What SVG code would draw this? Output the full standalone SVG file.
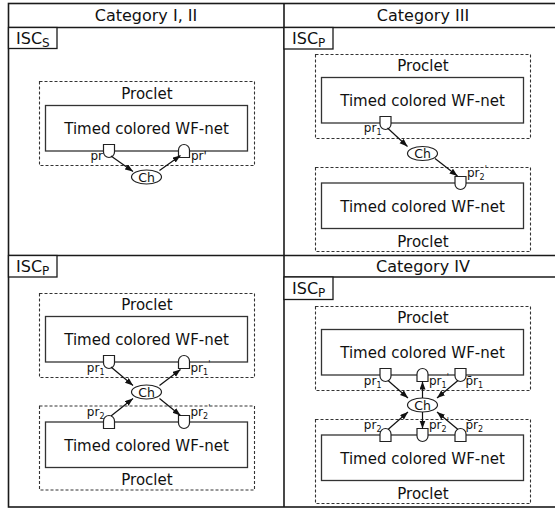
<svg xmlns="http://www.w3.org/2000/svg" width="555" height="509" viewBox="0 0 555 509">
<style>
text{font-family:"DejaVu Sans",sans-serif;fill:#111}
.hdr{font-size:16px;text-anchor:middle}
.isc{font-size:16px}
.sub{font-size:12px}
.lbl{font-size:15px;text-anchor:middle}
.pl{font-size:12px}
.ps{font-size:8px}
.end{text-anchor:end}
.cht{font-size:12.5px;text-anchor:middle}
.grid{fill:none;stroke:#1a1a1a;stroke-width:1.6}
.box{fill:#fff;stroke:#1a1a1a;stroke-width:1.3}
.proclet{fill:none;stroke:#333;stroke-width:1.1;stroke-dasharray:3 2}
.net{fill:none;stroke:#333;stroke-width:1.3}
.place{fill:#fff;stroke:#222;stroke-width:1.2}
.ch{fill:#fff;stroke:#222;stroke-width:1.2}
.arc{stroke:#111;stroke-width:1.2;fill:none;marker-end:url(#ah)}
</style>
<defs>
<marker id="ah" markerUnits="userSpaceOnUse" markerWidth="9" markerHeight="7" refX="8" refY="3" orient="auto"><path d="M0,0 L8,3 L0,6 Z" fill="#111"/></marker>
<path id="cup" class="place" d="M-5.5,-6.5H5.5V1A5.5,5.5 0 0 1 -5.5,1Z"/>
<path id="dome" class="place" d="M-5.5,6.5H5.5V-1A5.5,5.5 0 0 0 -5.5,-1Z"/>
</defs>

<g id="table">
<rect class="grid" x="8.5" y="3.5" width="560" height="503.5"/>
<line class="grid" x1="284" y1="3.5" x2="284" y2="507"/>
<line class="grid" x1="8.5" y1="27.5" x2="568" y2="27.5"/>
<line class="grid" x1="8.5" y1="255.5" x2="568" y2="255.5"/>
<line class="grid" x1="284" y1="277" x2="568" y2="277"/>
<text class="hdr" x="146" y="21">Category I, II</text>
<text class="hdr" x="423" y="21">Category III</text>
<text class="hdr" x="423" y="271.5">Category IV</text>
</g>

<g id="isc-a"><rect class="box" x="8.5" y="27.5" width="48.5" height="21"/><text class="isc" x="16" y="43.5">ISC<tspan class="sub" dy="3.5">S</tspan></text></g>
<g id="isc-b"><rect class="box" x="284" y="27.5" width="49" height="21.5"/><text class="isc" x="292" y="43.5">ISC<tspan class="sub" dy="3.5">P</tspan></text></g>
<g id="isc-c"><rect class="box" x="8.5" y="255.5" width="48.5" height="21.5"/><text class="isc" x="16" y="271.5">ISC<tspan class="sub" dy="3.5">P</tspan></text></g>
<g id="isc-d"><rect class="box" x="284" y="277" width="49" height="22.5"/><text class="isc" x="292" y="293.5">ISC<tspan class="sub" dy="3.5">P</tspan></text></g>

<!-- Panel A -->
<g id="a-proclet">
<rect class="proclet" x="39.5" y="81.5" width="215" height="84"/>
<text class="lbl" x="147" y="99">Proclet</text>
<rect class="net" x="45.5" y="105.5" width="202" height="45.5"/>
<text class="lbl" x="146.5" y="133.5">Timed colored WF-net</text>
</g>
<g id="a-pr"><use href="#cup" x="109" y="151"/><text class="pl end" x="103" y="160">pr</text></g>
<g id="a-pr2"><use href="#dome" x="184" y="151"/><text class="pl" x="191" y="160">pr'</text></g>
<g id="a-ch"><ellipse class="ch" cx="146.5" cy="177" rx="15" ry="7"/><text class="cht" x="146.5" y="181.5">Ch</text></g>

<!-- Panel B -->
<g id="b-proclet1">
<rect class="proclet" x="315.5" y="54.5" width="215" height="84"/>
<text class="lbl" x="423" y="71">Proclet</text>
<rect class="net" x="321.5" y="77.5" width="202" height="45.5"/>
<text class="lbl" x="422.5" y="106">Timed colored WF-net</text>
</g>
<g id="b-proclet2">
<rect class="proclet" x="315.5" y="167.5" width="215" height="84"/>
<rect class="net" x="321.5" y="183" width="202" height="45.5"/>
<text class="lbl" x="422.5" y="212">Timed colored WF-net</text>
<text class="lbl" x="423" y="246.5">Proclet</text>
</g>
<g id="b-pr1"><use href="#cup" x="385.5" y="123"/><text class="pl end" x="381.5" y="132">pr<tspan class="ps" dy="3">1</tspan></text></g>
<g id="b-pr2"><use href="#cup" x="460.5" y="183"/><text class="pl" x="467" y="177">pr<tspan class="ps" dy="3">2</tspan><tspan class="ps" dy="-8">'</tspan></text></g>
<g id="b-ch"><ellipse class="ch" cx="422.5" cy="153.5" rx="15" ry="7"/><text class="cht" x="422.5" y="158">Ch</text></g>

<!-- Panel C -->
<g id="c-proclet1">
<rect class="proclet" x="39.5" y="293.5" width="215" height="84"/>
<text class="lbl" x="147" y="309.5">Proclet</text>
<rect class="net" x="45.5" y="316.5" width="202" height="45.5"/>
<text class="lbl" x="146.5" y="345">Timed colored WF-net</text>
</g>
<g id="c-proclet2">
<rect class="proclet" x="39.5" y="406" width="215" height="84"/>
<rect class="net" x="45.5" y="422" width="202" height="45.5"/>
<text class="lbl" x="146.5" y="450.5">Timed colored WF-net</text>
<text class="lbl" x="147" y="484.5">Proclet</text>
</g>
<g id="c-pr1"><use href="#cup" x="109" y="362"/><text class="pl end" x="104.5" y="372">pr<tspan class="ps" dy="3">1</tspan></text></g>
<g id="c-pr1p"><use href="#dome" x="184" y="362"/><text class="pl" x="190.5" y="372">pr<tspan class="ps" dy="3">1</tspan><tspan class="ps" dy="-8">'</tspan></text></g>
<g id="c-pr2"><use href="#dome" x="109" y="422"/><text class="pl end" x="104.5" y="416">pr<tspan class="ps" dy="3">2</tspan></text></g>
<g id="c-pr2p"><use href="#cup" x="184" y="422"/><text class="pl" x="190.5" y="416">pr<tspan class="ps" dy="3">2</tspan><tspan class="ps" dy="-8">'</tspan></text></g>
<g id="c-ch"><ellipse class="ch" cx="146.5" cy="392" rx="15" ry="7"/><text class="cht" x="146.5" y="396.5">Ch</text></g>

<!-- Panel D -->
<g id="d-proclet1">
<rect class="proclet" x="315.5" y="306.5" width="215" height="84"/>
<text class="lbl" x="423" y="323">Proclet</text>
<rect class="net" x="321.5" y="329.5" width="202" height="45.5"/>
<text class="lbl" x="422.5" y="358">Timed colored WF-net</text>
</g>
<g id="d-proclet2">
<rect class="proclet" x="315.5" y="419.5" width="215" height="84"/>
<rect class="net" x="321.5" y="435" width="202" height="45.5"/>
<text class="lbl" x="422.5" y="464">Timed colored WF-net</text>
<text class="lbl" x="423" y="498.5">Proclet</text>
</g>
<g id="d-pr1"><use href="#cup" x="385.5" y="375"/><text class="pl end" x="381.5" y="385">pr<tspan class="ps" dy="3">1</tspan></text></g>
<g id="d-pr1p"><use href="#dome" x="422.5" y="375"/><text class="pl" x="429" y="385">pr<tspan class="ps" dy="3">1</tspan><tspan class="ps" dy="-8">'</tspan></text></g>
<g id="d-pbr1"><use href="#cup" x="460.5" y="375"/><text class="pl" x="465.5" y="385">p&#x304;r<tspan class="ps" dy="3">1</tspan></text></g>
<g id="d-pr2"><use href="#dome" x="385.5" y="435"/><text class="pl end" x="381.5" y="429">pr<tspan class="ps" dy="3">2</tspan></text></g>
<g id="d-pr2p"><use href="#cup" x="422.5" y="435"/><text class="pl" x="429" y="429">pr<tspan class="ps" dy="3">2</tspan><tspan class="ps" dy="-8">'</tspan></text></g>
<g id="d-pbr2"><use href="#dome" x="460.5" y="435"/><text class="pl" x="465.5" y="429">p&#x304;r<tspan class="ps" dy="3">2</tspan></text></g>
<g id="d-ch"><ellipse class="ch" cx="422.5" cy="405" rx="15" ry="7"/><text class="cht" x="422.5" y="409.5">Ch</text></g>

<g id="connectors">
<path class="arc" d="M111,156 L133,171.5"/>
<path class="arc" d="M159.5,170.5 L180.5,155.5"/>
<path class="arc" d="M387.5,128 L407.5,146.5"/>
<path class="arc" d="M435,158.5 L457.5,176"/>
<path class="arc" d="M111,367 L133,385.5"/>
<path class="arc" d="M159.5,385.5 L180.5,369.5"/>
<path class="arc" d="M111,416 L133,398.5"/>
<path class="arc" d="M159.5,398.5 L180.5,415.5"/>
<path class="arc" d="M388,380.5 L408,398"/>
<path class="arc" d="M422.5,398 L422.5,381.5"/>
<path class="arc" d="M458,380.5 L437,398"/>
<path class="arc" d="M388,429.5 L408,412"/>
<path class="arc" d="M422.5,412 L422.5,428.5"/>
<path class="arc" d="M458,429.5 L437,412"/>
</g>
</svg>
